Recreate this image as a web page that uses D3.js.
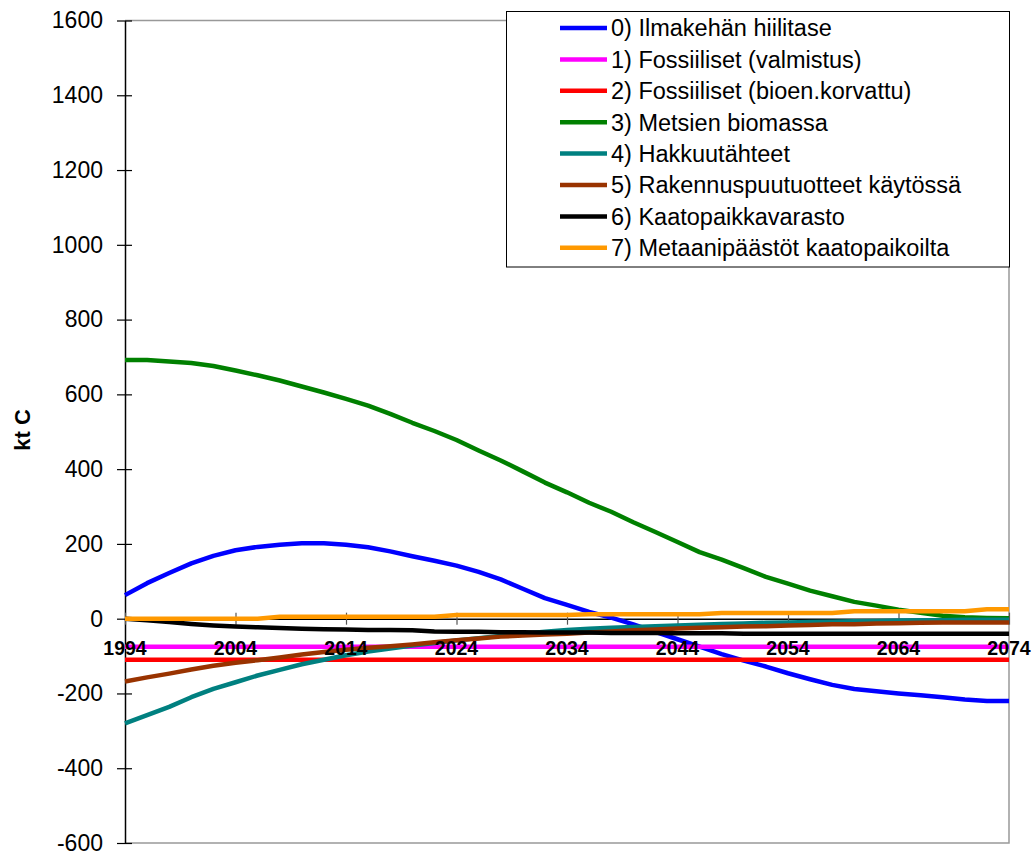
<!DOCTYPE html>
<html>
<head>
<meta charset="utf-8">
<script src="https://cdn.jsdelivr.net/npm/d3@7"></script>
<style>
  body { margin: 0; background: #fff; }
  svg text { font-family: "Liberation Sans", Arial, sans-serif; }
</style>
</head>
<body>
<div id="chart"></div>
<script>
// Years sampled every 2 years (1994..2074)
const years = d3.range(1994, 2075, 2);
const constYears = [1994, 2074];

const seriesNames = [
  "0) Ilmakehän hiilitase",
  "1) Fossiiliset (valmistus)",
  "2) Fossiiliset (bioen.korvattu)",
  "3) Metsien biomassa",
  "4) Hakkuutähteet",
  "5) Rakennuspuutuotteet käytössä",
  "6) Kaatopaikkavarasto",
  "7) Metaanipäästöt kaatopaikoilta"
];
const seriesColors = ["#0000ff", "#ff00ff", "#ff0000", "#008000", "#008080", "#993300", "#000000", "#ff9900"];

const ilmakehae = [63, 95, 122, 148, 168, 183, 192, 198, 202, 202, 198, 191, 180, 167, 155, 142, 125, 105, 80, 55,
  37, 18, 3, -15, -35, -55, -75, -95, -112, -128, -146, -162, -177, -188, -194, -200, -205, -210, -216, -220, -220];
const fossValmistus = [-75, -75];
const fossBioen = [-110, -110];
const metsaet = [692, 692, 688, 684, 676, 664, 651, 637, 621, 605, 588, 570, 548, 524, 502, 478, 450, 423, 394, 364,
  338, 310, 286, 258, 232, 205, 178, 158, 135, 112, 94, 75, 60, 45, 35, 24, 16, 8, 4, 2, 1];
const hakkuutaehteet = [-280, -258, -236, -210, -188, -170, -152, -137, -122, -110, -98, -88, -80, -72, -65, -58, -52, -46, -40, -35,
  -30, -27, -24, -22, -20, -18, -16, -14, -13, -11, -10, -9, -8, -7, -6, -5, -4, -4, -3, -3, -3];
const rakennus = [-168, -157, -147, -136, -126, -118, -111, -104, -96, -89, -83, -78, -74, -69, -63, -58, -53, -48, -45, -42,
  -40, -37, -34, -31, -29, -26, -24, -23, -21, -20, -18, -17, -15, -15, -13, -12, -11, -10, -10, -10, -10];
const kaatopaikka = [0, -4, -9, -14, -18, -21, -23, -25, -27, -28, -29, -30, -30, -31, -34, -35, -35, -36, -36, -37,
  -37, -37, -38, -38, -38, -39, -39, -39, -40, -40, -40, -40, -40, -40, -40, -40, -40, -40, -40, -40, -40];
const metaani = [0, 0, 0, 0, 0, 0, 0, 5, 5, 5, 5, 5, 5, 5, 5, 10, 10, 10, 10, 10,
  10, 12, 12, 12, 12, 12, 12, 15, 15, 15, 15, 15, 15, 20, 20, 20, 20, 20, 20, 25, 25];

const xTicks = d3.range(1994, 2075, 10);
const yTicks = d3.range(-600, 1601, 200);

const series = [
  { x: years, y: ilmakehae },
  { x: constYears, y: fossValmistus },
  { x: constYears, y: fossBioen },
  { x: years, y: metsaet },
  { x: years, y: hakkuutaehteet },
  { x: years, y: rakennus },
  { x: years, y: kaatopaikka },
  { x: years, y: metaani }
].map((s, i) => ({ name: seriesNames[i], color: seriesColors[i], points: s.x.map((yr, j) => [yr, s.y[j]]) }));

const W = 1032, H = 857;
const plotLeft = 125, plotRight = 1009, plotTop = 20.5, plotBottom = 843;

const svg = d3.select("#chart").append("svg")
  .attr("width", W).attr("height", H);

const x = d3.scaleLinear().domain([1994, 2074]).range([plotLeft, plotRight]);
const y = d3.scaleLinear().domain([-600, 1600]).range([plotBottom, plotTop]);

// plot frame (top, right, bottom in grey)
svg.append("path")
  .attr("d", `M${plotLeft},${plotTop}H${plotRight}V${plotBottom}H${plotLeft}`)
  .attr("fill", "none")
  .attr("stroke", "#999")
  .attr("stroke-width", 1.5);

// y axis
const yAxis = svg.append("g")
  .attr("transform", `translate(${plotLeft},0)`)
  .call(d3.axisLeft(y).tickValues(yTicks).tickSize(0).tickPadding(22).tickFormat(d => String(d)));
yAxis.select(".domain").attr("stroke", "#000").attr("stroke-width", 1.5);
yAxis.selectAll(".tick line").attr("x1", -8).attr("x2", 7).attr("stroke", "#000").attr("stroke-width", 1.2);
yAxis.selectAll(".tick text")
  .attr("font-size", 23)
  .attr("fill", "#000")
  .attr("font-family", "Liberation Sans, Arial, sans-serif");

// x axis at y=0 (labels drawn later, on top of lines)
const xAxis = svg.append("g")
  .attr("transform", `translate(0,${y(0)})`)
  .call(d3.axisBottom(x).tickValues(xTicks).tickSize(0).tickFormat(""));
xAxis.select(".domain").attr("stroke", "#000").attr("stroke-width", 1.5);
xAxis.selectAll(".tick line").attr("y1", -6).attr("y2", 6).attr("stroke", "#555").attr("stroke-width", 1.2);

// series lines
const line = d3.line().x(d => x(d[0])).y(d => y(d[1]));
svg.append("g").selectAll("path")
  .data(series)
  .join("path")
  .attr("fill", "none")
  .attr("stroke", d => d.color)
  .attr("stroke-width", 4.5)
  .attr("stroke-linejoin", "round")
  .attr("d", d => line(d.points));

// x tick labels
svg.append("g").selectAll("text")
  .data(xTicks)
  .join("text")
  .attr("x", d => x(d))
  .attr("y", y(0) + 36)
  .attr("text-anchor", "middle")
  .attr("font-size", 19.5)
  .attr("font-weight", "bold")
  .text(d => d);

// y axis title
svg.append("text")
  .attr("transform", `translate(30,430) rotate(-90)`)
  .attr("text-anchor", "middle")
  .attr("font-size", 22)
  .attr("font-weight", "bold")
  .text("kt C");

// legend
const legend = svg.append("g");
legend.append("rect")
  .attr("x", 506.5).attr("y", 11.5)
  .attr("width", 503).attr("height", 255.5)
  .attr("fill", "#fff")
  .attr("stroke", "#000")
  .attr("stroke-width", 1);

const item = legend.selectAll("g.item")
  .data(series)
  .join("g")
  .attr("class", "item")
  .attr("transform", (d, i) => `translate(0,${28 + i * 31.4})`);

item.append("line")
  .attr("x1", 560).attr("x2", 607)
  .attr("stroke", d => d.color)
  .attr("stroke-width", 4.5);

item.append("text")
  .attr("x", 611)
  .attr("dy", "0.36em")
  .attr("font-size", 23.5)
  .attr("fill", "#000")
  .text(d => d.name);
</script>
</body>
</html>
